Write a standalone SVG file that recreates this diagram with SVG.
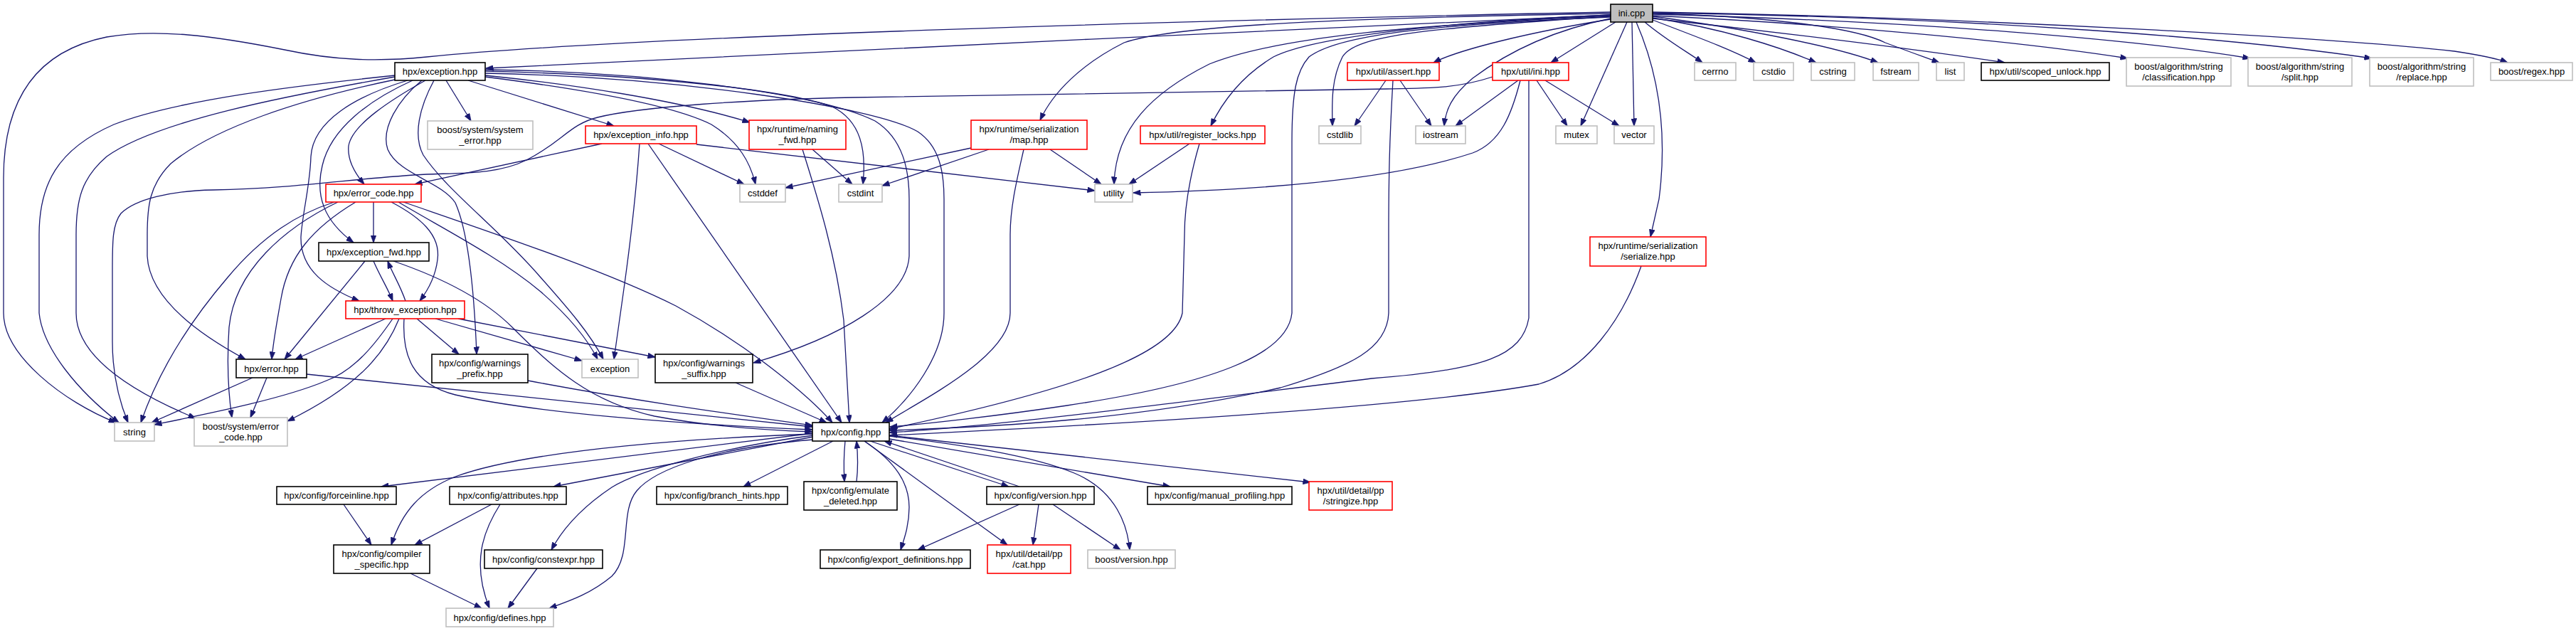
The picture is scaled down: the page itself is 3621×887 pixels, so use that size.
<svg xmlns="http://www.w3.org/2000/svg" width="3621" height="887" viewBox="0 0 3621 887">
<defs>
<marker id="ah" viewBox="0 0 11 8" refX="10.5" refY="4" markerWidth="11" markerHeight="8" markerUnits="userSpaceOnUse" orient="auto">
<path d="M0,0 L11,4 L0,8 z" fill="#191970" stroke="#191970" stroke-width="0.6"/>
</marker>
<style>
.e path{fill:none;stroke:#191970;stroke-width:1.3;marker-end:url(#ah)}
rect{fill:#fff;stroke-width:1.6}
.g rect{stroke:#bfbfbf}
.b rect{stroke:#000}
.r rect{stroke:#ff0000}
.root rect{fill:#bfbfbf;stroke:#000}
text{font-family:"Liberation Sans",Arial,Helvetica,sans-serif;font-size:13px;text-anchor:middle;fill:#000}
</style>
</defs>
<rect x="0" y="0" width="3621" height="887" style="fill:#fff;stroke:none"/>
<g class="e" id="edges">
<path d="M2264,21 C1800,40 1100,78 683,96"/>
<path d="M2264,17 C1700,28 900,50 600,80 C530,87 470,85 400,70 C300,50 220,40 150,52 C60,70 5,130 5,250 L5,440 C5,500 90,565 163,594"/>
<path d="M2264,19 C1900,25 1650,35 1580,60 C1520,90 1480,130 1462,169"/>
<path d="M2264,21 C2050,30 1850,50 1790,80 C1740,110 1715,150 1702,177"/>
<path d="M2264,22 C2000,35 1800,50 1700,90 C1620,130 1568,180 1566,259"/>
<path d="M2264,23 C2000,40 1905,50 1887,80 C1872,110 1872,140 1873,177"/>
<path d="M2264,24 C2000,35 1880,50 1840,80 C1822,100 1816,130 1816,200 L1816,440 C1810,500 1700,540 1500,570 C1400,585 1300,596 1251,600"/>
<path d="M2264,26 C2170,45 2110,80 2070,110 C2040,135 2032,155 2030,177"/>
<path d="M2264,27 C2150,45 2050,70 2015,88"/>
<path d="M2271,31 L2180,88"/>
<path d="M2287,31 L2222,177"/>
<path d="M2294,31 L2297,177"/>
<path d="M2300,31 C2330,100 2345,180 2332,280 L2320,333"/>
<path d="M2312,31 C2340,55 2375,75 2393,88"/>
<path d="M2323,28 C2380,50 2430,68 2468,88"/>
<path d="M2323,25 C2420,40 2500,65 2553,88"/>
<path d="M2323,23 C2450,40 2580,65 2640,88"/>
<path d="M2323,19 C2450,22 2600,35 2650,60 C2690,75 2710,82 2726,88"/>
<path d="M2323,26 C2500,45 2700,70 2818,88"/>
<path d="M2323,22 C2600,35 2850,60 2991,82"/>
<path d="M2323,20 C2700,30 3000,55 3163,82"/>
<path d="M2323,18 C2800,25 3150,55 3334,82"/>
<path d="M2323,17 C2800,25 3300,55 3450,72 C3490,78 3510,82 3525,88"/>
<path d="M555,106 C420,120 250,140 160,175 C80,210 55,260 55,330 L55,440 C60,490 110,550 167,594"/>
<path d="M555,108 C400,135 220,170 150,220 C115,250 107,280 107,330 L107,440 C107,490 160,540 275,588"/>
<path d="M555,112 C420,140 300,180 240,230 C210,260 207,290 207,330 L207,360 C210,420 280,470 345,505"/>
<path d="M573,113 C500,135 440,170 437,220 C436,260 425,300 423,333 C422,380 460,405 505,423"/>
<path d="M580,113 C520,140 465,180 453,233 C443,275 455,310 497,341"/>
<path d="M598,113 C550,140 495,175 490,205 C488,225 500,245 512,259"/>
<path d="M593,113 C560,140 535,180 545,210 C560,245 620,255 640,285 C660,330 667,420 670,498"/>
<path d="M610,113 C590,150 580,190 595,218 C630,270 700,320 760,390 C800,435 830,470 848,505"/>
<path d="M627,113 L662,170"/>
<path d="M658,113 L863,177"/>
<path d="M682,106 C800,118 950,140 1054,172"/>
<path d="M682,108 C840,128 950,150 1000,175 C1040,200 1055,230 1062,259"/>
<path d="M682,100 C900,105 1100,125 1170,150 C1210,170 1218,210 1213,259"/>
<path d="M682,98 C900,100 1150,130 1230,170 C1270,195 1278,240 1278,280 L1278,360 C1275,420 1180,475 1059,510"/>
<path d="M682,103 C950,108 1230,150 1290,185 C1320,205 1327,240 1327,280 L1327,440 C1327,500 1280,560 1240,594"/>
<path d="M525,284 L525,341"/>
<path d="M550,284 C590,305 620,330 615,365 C612,390 600,410 590,423"/>
<path d="M500,284 C440,320 405,360 395,420 C388,460 384,480 382,505"/>
<path d="M475,284 C400,320 330,380 322,460 C318,520 322,560 326,587"/>
<path d="M470,284 C420,300 370,330 320,390 C260,460 220,530 198,594"/>
<path d="M560,284 C620,320 700,360 760,410 C800,445 825,475 840,505"/>
<path d="M567,284 C700,330 850,380 950,430 C1060,490 1140,560 1170,594"/>
<path d="M513,367 L400,505"/>
<path d="M525,367 C535,390 545,405 552,423"/>
<path d="M553,367 C620,390 680,420 720,460 C780,520 830,565 920,585 C1000,600 1080,605 1142,607"/>
<path d="M570,423 C562,400 552,385 545,367"/>
<path d="M542,448 L415,505"/>
<path d="M586,448 L645,498"/>
<path d="M612,448 L818,507"/>
<path d="M644,448 L921,502"/>
<path d="M552,448 C530,480 500,520 459,535 C400,560 300,580 217,597"/>
<path d="M561,448 C540,500 500,545 404,592"/>
<path d="M568,448 C565,500 580,540 640,555 C750,580 950,596 1142,604"/>
<path d="M355,531 L213,594"/>
<path d="M375,531 L352,587"/>
<path d="M431,526 C700,552 950,578 1142,600"/>
<path d="M742,535 C900,565 1050,585 1142,598"/>
<path d="M1034,538 L1162,594"/>
<path d="M846,202 L583,259"/>
<path d="M926,202 L1046,259"/>
<path d="M899,202 C895,260 885,350 875,420 L863,505"/>
<path d="M911,202 L1183,594"/>
<path d="M979,203 L1539,268"/>
<path d="M1142,210 L1198,259"/>
<path d="M1128,210 C1150,280 1175,360 1186,450 L1194,594"/>
<path d="M1365,208 L1104,264"/>
<path d="M1390,210 L1240,261"/>
<path d="M1439,210 C1430,250 1420,290 1420,330 L1420,440 C1420,500 1300,560 1245,594"/>
<path d="M1476,210 L1548,259"/>
<path d="M1672,202 L1587,259"/>
<path d="M1686,202 C1672,250 1665,290 1665,330 L1662,440 C1650,500 1500,550 1250,603"/>
<path d="M1948,113 L1904,177"/>
<path d="M1968,113 L2012,177"/>
<path d="M1958,113 C1953,200 1952,250 1952,330 L1952,440 C1950,490 1900,515 1800,545 C1600,590 1400,600 1250,605"/>
<path d="M2134,113 L2046,177"/>
<path d="M2160,113 L2203,177"/>
<path d="M2172,113 L2276,177"/>
<path d="M2149,113 L2149,447 C2140,500 2087,520 1928,532 C1700,560 1400,600 1250,608"/>
<path d="M2098,108 C2050,124 2010,124 1950,125 L1200,137 C1050,140 900,150 840,165 C800,175 790,200 740,225 C700,245 650,243 600,245 C500,250 420,265 300,267 C240,268 190,280 170,300 C158,315 158,340 158,380 L158,480 C158,530 170,570 180,594"/>
<path d="M2137,113 C2125,160 2110,200 2070,215 C1950,255 1750,268 1593,271"/>
<path d="M2307,374 C2280,450 2230,520 2163,540 C2000,570 1600,595 1251,612"/>
<path d="M1143,609 L536,684"/>
<path d="M1143,610 C1000,615 750,630 640,670 C590,690 565,720 550,766"/>
<path d="M1143,614 L778,684"/>
<path d="M1143,612 C1020,628 900,660 860,685 C815,715 790,745 775,773"/>
<path d="M1143,618 C1000,630 920,660 895,690 C870,720 890,780 860,810 C830,835 800,845 772,855"/>
<path d="M1171,620 L1045,684"/>
<path d="M1188,620 C1186,640 1186,660 1187,677"/>
<path d="M1204,677 C1206,660 1206,640 1204,620"/>
<path d="M1215,620 C1260,650 1278,680 1278,713 C1278,740 1270,760 1266,773"/>
<path d="M1215,620 L1416,766"/>
<path d="M1223,620 L1418,684"/>
<path d="M1433,684 L1243,620"/>
<path d="M1250,613 C1350,625 1450,640 1510,665 C1570,690 1585,740 1588,773"/>
<path d="M1250,617 L1645,684"/>
<path d="M1250,612 L1842,678"/>
<path d="M1433,709 L1290,773"/>
<path d="M1460,709 L1452,766"/>
<path d="M1480,709 L1575,773"/>
<path d="M483,709 L522,766"/>
<path d="M691,709 L583,766"/>
<path d="M703,709 C680,745 662,790 688,855"/>
<path d="M577,806 L677,855"/>
<path d="M755,799 L714,855"/>
</g>
<g id="n_ini_cpp" class="root"><rect x="2264" y="6" width="59" height="25"/><text x="2293.5" y="23">ini.cpp</text></g>
<g id="n_exception" class="b"><rect x="555" y="88" width="127" height="25"/><text x="618.5" y="105">hpx/exception.hpp</text></g>
<g id="n_assert" class="r"><rect x="1894" y="88" width="129" height="25"/><text x="1958.5" y="105">hpx/util/assert.hpp</text></g>
<g id="n_ini_hpp" class="r"><rect x="2098" y="88" width="107" height="25"/><text x="2151.5" y="105">hpx/util/ini.hpp</text></g>
<g id="n_cerrno" class="g"><rect x="2382" y="88" width="58" height="25"/><text x="2411" y="105">cerrno</text></g>
<g id="n_cstdio" class="g"><rect x="2465" y="88" width="56" height="25"/><text x="2493" y="105">cstdio</text></g>
<g id="n_cstring" class="g"><rect x="2546" y="88" width="61" height="25"/><text x="2576.5" y="105">cstring</text></g>
<g id="n_fstream" class="g"><rect x="2633" y="88" width="64" height="25"/><text x="2665" y="105">fstream</text></g>
<g id="n_list" class="g"><rect x="2722" y="88" width="39" height="25"/><text x="2741.5" y="105">list</text></g>
<g id="n_scoped_unlock" class="b"><rect x="2785" y="88" width="180" height="25"/><text x="2875" y="105">hpx/util/scoped_unlock.hpp</text></g>
<g id="n_classification" class="g"><rect x="2989" y="81" width="147" height="40"/><text x="3062.5" y="97.5">boost/algorithm/string</text><text x="3062.5" y="112.5">/classification.hpp</text></g>
<g id="n_split" class="g"><rect x="3160" y="81" width="146" height="40"/><text x="3233" y="97.5">boost/algorithm/string</text><text x="3233" y="112.5">/split.hpp</text></g>
<g id="n_replace" class="g"><rect x="3331" y="81" width="146" height="40"/><text x="3404" y="97.5">boost/algorithm/string</text><text x="3404" y="112.5">/replace.hpp</text></g>
<g id="n_regex" class="g"><rect x="3501" y="88" width="115" height="25"/><text x="3558.5" y="105">boost/regex.hpp</text></g>
<g id="n_system_error" class="g"><rect x="601" y="170" width="148" height="40"/><text x="675" y="186.5">boost/system/system</text><text x="675" y="201.5">_error.hpp</text></g>
<g id="n_exception_info" class="r"><rect x="823" y="177" width="156" height="25"/><text x="901" y="194">hpx/exception_info.hpp</text></g>
<g id="n_naming_fwd" class="r"><rect x="1053" y="169" width="136" height="41"/><text x="1121" y="186">hpx/runtime/naming</text><text x="1121" y="201">_fwd.hpp</text></g>
<g id="n_map" class="r"><rect x="1365" y="169" width="163" height="41"/><text x="1446.5" y="186">hpx/runtime/serialization</text><text x="1446.5" y="201">/map.hpp</text></g>
<g id="n_register_locks" class="r"><rect x="1603" y="177" width="175" height="25"/><text x="1690.5" y="194">hpx/util/register_locks.hpp</text></g>
<g id="n_cstdlib" class="g"><rect x="1854" y="177" width="59" height="25"/><text x="1883.5" y="194">cstdlib</text></g>
<g id="n_iostream" class="g"><rect x="1990" y="177" width="70" height="25"/><text x="2025" y="194">iostream</text></g>
<g id="n_mutex" class="g"><rect x="2187" y="177" width="58" height="25"/><text x="2216" y="194">mutex</text></g>
<g id="n_vector" class="g"><rect x="2269" y="177" width="56" height="25"/><text x="2297" y="194">vector</text></g>
<g id="n_error_code" class="r"><rect x="458" y="259" width="134" height="25"/><text x="525" y="276">hpx/error_code.hpp</text></g>
<g id="n_cstddef" class="g"><rect x="1040" y="259" width="64" height="25"/><text x="1072" y="276">cstddef</text></g>
<g id="n_cstdint" class="g"><rect x="1179" y="259" width="61" height="25"/><text x="1209.5" y="276">cstdint</text></g>
<g id="n_utility" class="g"><rect x="1539" y="259" width="53" height="25"/><text x="1565.5" y="276">utility</text></g>
<g id="n_serialize" class="r"><rect x="2235" y="333" width="163" height="41"/><text x="2316.5" y="350">hpx/runtime/serialization</text><text x="2316.5" y="365">/serialize.hpp</text></g>
<g id="n_exception_fwd" class="b"><rect x="448" y="341" width="155" height="26"/><text x="525.5" y="358.5">hpx/exception_fwd.hpp</text></g>
<g id="n_throw_exception" class="r"><rect x="486" y="423" width="167" height="25"/><text x="569.5" y="440">hpx/throw_exception.hpp</text></g>
<g id="n_error" class="b"><rect x="332" y="505" width="99" height="26"/><text x="381.5" y="522.5">hpx/error.hpp</text></g>
<g id="n_warnings_prefix" class="b"><rect x="607" y="498" width="135" height="40"/><text x="674.5" y="514.5">hpx/config/warnings</text><text x="674.5" y="529.5">_prefix.hpp</text></g>
<g id="n_exception_std" class="g"><rect x="818" y="505" width="79" height="26"/><text x="857.5" y="522.5">exception</text></g>
<g id="n_warnings_suffix" class="b"><rect x="921" y="498" width="137" height="40"/><text x="989.5" y="514.5">hpx/config/warnings</text><text x="989.5" y="529.5">_suffix.hpp</text></g>
<g id="n_string" class="g"><rect x="161" y="594" width="56" height="26"/><text x="189" y="611.5">string</text></g>
<g id="n_boost_error_code" class="g"><rect x="273" y="587" width="131" height="40"/><text x="338.5" y="603.5">boost/system/error</text><text x="338.5" y="618.5">_code.hpp</text></g>
<g id="n_config" class="b"><rect x="1142" y="594" width="108" height="26"/><text x="1196" y="611.5">hpx/config.hpp</text></g>
<g id="n_forceinline" class="b"><rect x="389" y="684" width="168" height="25"/><text x="473" y="701">hpx/config/forceinline.hpp</text></g>
<g id="n_attributes" class="b"><rect x="632" y="684" width="164" height="25"/><text x="714" y="701">hpx/config/attributes.hpp</text></g>
<g id="n_branch_hints" class="b"><rect x="923" y="684" width="184" height="25"/><text x="1015" y="701">hpx/config/branch_hints.hpp</text></g>
<g id="n_emulate_deleted" class="b"><rect x="1130" y="677" width="131" height="40"/><text x="1195.5" y="693.5">hpx/config/emulate</text><text x="1195.5" y="708.5">_deleted.hpp</text></g>
<g id="n_version" class="b"><rect x="1387" y="684" width="151" height="25"/><text x="1462.5" y="701">hpx/config/version.hpp</text></g>
<g id="n_manual_profiling" class="b"><rect x="1613" y="684" width="203" height="25"/><text x="1714.5" y="701">hpx/config/manual_profiling.hpp</text></g>
<g id="n_stringize" class="r"><rect x="1840" y="677" width="117" height="40"/><text x="1898.5" y="693.5">hpx/util/detail/pp</text><text x="1898.5" y="708.5">/stringize.hpp</text></g>
<g id="n_compiler_specific" class="b"><rect x="469" y="766" width="135" height="40"/><text x="536.5" y="782.5">hpx/config/compiler</text><text x="536.5" y="797.5">_specific.hpp</text></g>
<g id="n_constexpr" class="b"><rect x="681" y="773" width="166" height="26"/><text x="764" y="790.5">hpx/config/constexpr.hpp</text></g>
<g id="n_export_definitions" class="b"><rect x="1153" y="773" width="211" height="26"/><text x="1258.5" y="790.5">hpx/config/export_definitions.hpp</text></g>
<g id="n_cat" class="r"><rect x="1388" y="766" width="117" height="40"/><text x="1446.5" y="782.5">hpx/util/detail/pp</text><text x="1446.5" y="797.5">/cat.hpp</text></g>
<g id="n_boost_version" class="g"><rect x="1529" y="773" width="123" height="26"/><text x="1590.5" y="790.5">boost/version.hpp</text></g>
<g id="n_defines" class="g"><rect x="627" y="855" width="151" height="26"/><text x="702.5" y="872.5">hpx/config/defines.hpp</text></g>
</svg>
